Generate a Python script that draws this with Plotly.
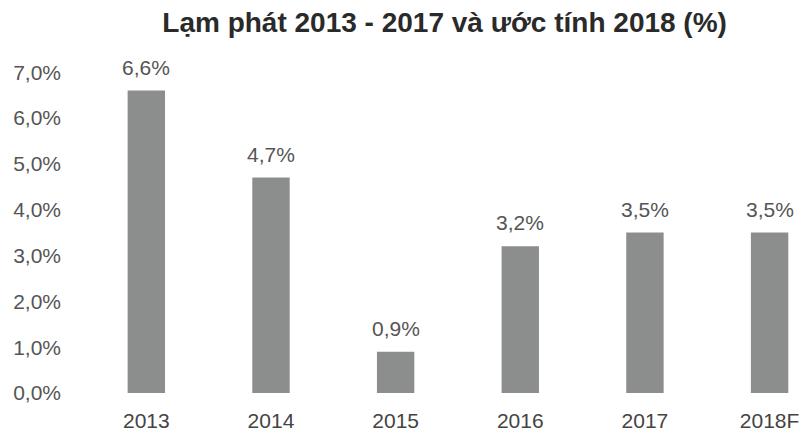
import plotly.graph_objects as go

categories = ["2013", "2014", "2015", "2016", "2017", "2018F"]
inflation = [6.6, 4.7, 0.9, 3.2, 3.5, 3.5]
y_ticks = [0, 1, 2, 3, 4, 5, 6, 7]
title_text = "Lạm phát 2013 - 2017 và ước tính 2018 (%)"


def pct(v):
    return f"{v:.1f}".replace(".", ",") + "%"


labels = [pct(v) for v in inflation]
tick_text = [pct(v) for v in y_ticks]

FONT = "Liberation Sans, Arial, sans-serif"

fig = go.Figure(go.Bar(
    x=list(range(len(categories))), y=inflation,
    marker=dict(color="#8b8e8c", line=dict(width=0)),
    width=0.3, hoverinfo="skip",
))

for i, (v, t) in enumerate(zip(inflation, labels)):
    fig.add_annotation(x=i, y=v, text=t, showarrow=False, yanchor="bottom", yshift=10,
                       font=dict(family=FONT, size=21, color="#555555"))

fig.update_layout(
    width=804, height=434,
    margin=dict(l=84, r=2, t=63, b=41),
    paper_bgcolor="white", plot_bgcolor="white",
    showlegend=False,
    title=dict(text="<b>" + title_text + "</b>", x=0.553, xanchor="center", y=0.95, yanchor="middle",
               font=dict(family=FONT, size=28, color="#2a2a2a")),
    font=dict(family=FONT, size=21, color="#555555"),
    xaxis=dict(range=[-0.5, 5.26], tickvals=list(range(len(categories))), ticktext=categories,
               showgrid=False, showline=False, zeroline=False,
               ticks="", ticklabelstandoff=13, tickfont=dict(size=21, color="#444444")),
    yaxis=dict(range=[0, 7.2], tickvals=y_ticks, ticktext=tick_text,
               showgrid=False, showline=False, zeroline=False, ticks="", ticklabelstandoff=22,
               tickfont=dict(size=21, color="#555555")),
)

fig.write_html("out.html")
